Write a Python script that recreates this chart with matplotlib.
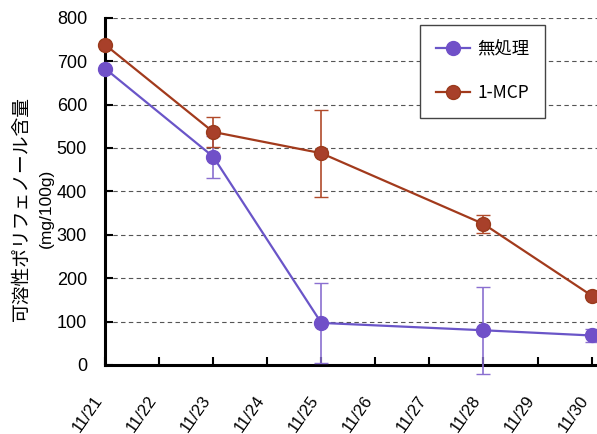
import matplotlib
matplotlib.use('Agg')
import matplotlib.pyplot as plt
import matplotlib.transforms as mtransforms
from matplotlib.lines import Line2D

plt.rcParams['font.family'] = ['Noto Sans CJK JP', 'DejaVu Sans']

# data
days = [21, 23, 25, 28, 30]
tick_days = list(range(21, 31))
tick_labels = ['11/%d' % d for d in tick_days]

control = [683, 480, 97, 80, 68]
control_err = [0, 48, 92, 100, 15]
mcp = [738, 537, 488, 325, 160]
mcp_err = [0, 35, 100, 20, 0]

purple = '#6a55c8'
brown = '#a23a1c'

fig = plt.figure(figsize=(5.97, 4.34), dpi=100)
ax = fig.add_axes([0.176, 0.159, 0.824, 0.8])

ax.errorbar(days, control, yerr=control_err, color=purple, marker='o',
            markersize=10, markerfacecolor='#7050c8', markeredgecolor='#7050c8',
            linewidth=1.6, capsize=5, elinewidth=1.2, ecolor='#8a6fd0',
            clip_on=False, zorder=3)
ax.errorbar(days, mcp, yerr=mcp_err, color=brown, marker='o',
            markersize=10, markerfacecolor='#a8402a', markeredgecolor='#9a3a1c',
            linewidth=1.6, capsize=5, elinewidth=1.2, ecolor='#b04a2a',
            clip_on=False, zorder=4)

ax.set_xlim(21, 30.1)
ax.set_ylim(0, 800)
ax.set_yticks(range(0, 801, 100))
ax.set_xticks(tick_days)
ax.set_xticklabels(tick_labels, rotation=55, ha='right', va='top', fontsize=12,
                   family='Liberation Sans')
shift = mtransforms.ScaledTranslation(-10 / 100, 0, fig.dpi_scale_trans)
for t in ax.get_xticklabels():
    t.set_transform(t.get_transform() + shift)
for t in ax.get_yticklabels():
    t.set_fontsize(13)
    t.set_family('Liberation Sans')
ax.tick_params(direction='in', length=6, width=1.5)
ax.tick_params(axis='x', pad=20)
ax.tick_params(axis='y', pad=13)

ax.yaxis.grid(True, linestyle=(0, (4, 3)), color='#555555', linewidth=0.8)
ax.set_axisbelow(True)
for s in ['left', 'bottom']:
    ax.spines[s].set_linewidth(2.2)
ax.spines['top'].set_visible(False)
ax.spines['right'].set_visible(False)

fig.text(0.035, 0.52, '可溶性ポリフェノール含量', rotation=90, ha='center', va='center', fontsize=13.5)
fig.text(0.078, 0.52, '(mg/100g)', rotation=90, ha='center', va='center', fontsize=12.5,
         family='Liberation Sans')

handles = [Line2D([], [], color=purple, marker='o', markersize=10,
                  markerfacecolor='#7050c8', markeredgecolor='#7050c8', linewidth=1.6),
           Line2D([], [], color=brown, marker='o', markersize=10,
                  markerfacecolor='#a8402a', markeredgecolor='#9a3a1c', linewidth=1.6)]
leg = ax.legend(handles, ['無処理', '1-MCP'], loc='upper left',
                bbox_to_anchor=(0.64, 0.98), fontsize=12.5,
                frameon=True, fancybox=False, edgecolor='#444444', framealpha=1,
                labelspacing=1.5, borderpad=0.9, handlelength=2.0, handletextpad=0.4,
                borderaxespad=0)
leg.get_frame().set_linewidth(1.0)

fig.savefig('out.png', dpi=100)
